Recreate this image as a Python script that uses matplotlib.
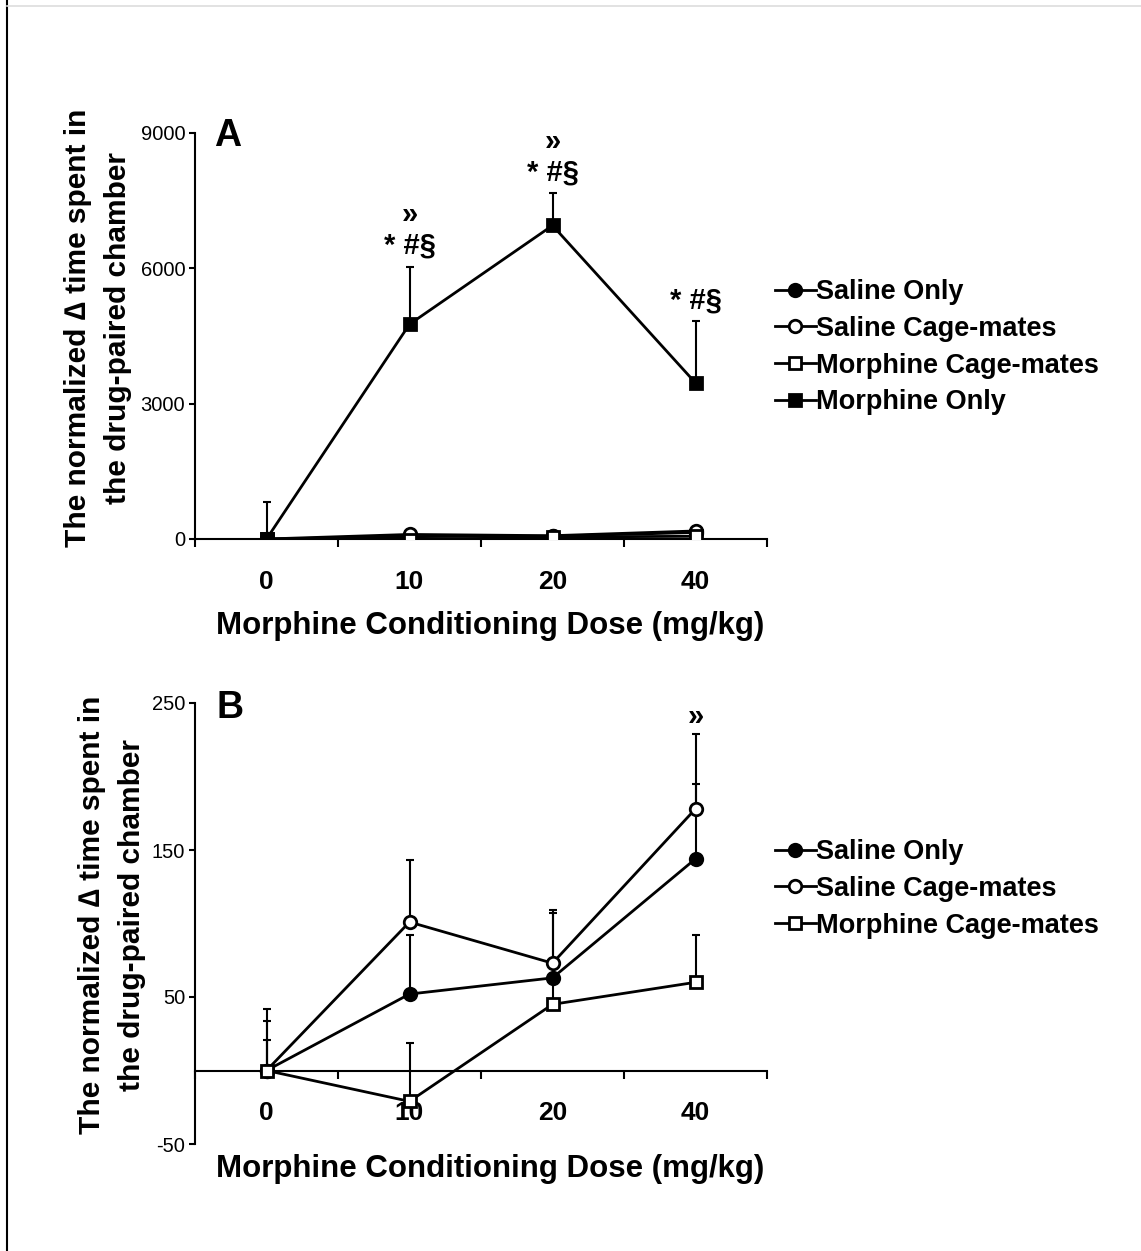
import numpy as np
import matplotlib
matplotlib.use('Agg')
import matplotlib.pyplot as plt
from matplotlib.lines import Line2D

plt.rcParams['font.family'] = ['Liberation Sans', 'DejaVu Sans']

################ DATA ####################

doses = ['0', '10', '20', '40']

# panel A
morph_only = [0, 4760, 6950, 3460]
morph_only_err = [815, 1280, 720, 1370]
a_sal_only = [0, 52, 63, 144]
a_sal_cage = [0, 101, 73, 178]
a_morph_cage = [0, -21, 45, 60]

# panel B
sal_only = [0, 52, 63, 144]
sal_only_err = [34, 40, 44, 51]
sal_cage = [0, 101, 73, 178]
sal_cage_err = [42, 42, 36, 51]
morph_cage = [0, -21, 45, 60]
morph_cage_err = [21, 40, 18, 32]

a_marks = ['»\n* #§', '»\n* #§', '* #§']   # over 10, 20, 40
b_marks = ['»']                             # over 40

################ PLOT ####################

W, H = 1141, 1251
fig = plt.figure(figsize=(W / 100, H / 100), dpi=100)
x = np.arange(len(doses))

styles = {
    'Saline Only': dict(marker='o', mfc='black', ms=9),
    'Saline Cage-mates': dict(marker='o', mfc='white', ms=9),
    'Morphine Cage-mates': dict(marker='s', mfc='white', ms=9),
    'Morphine Only': dict(marker='s', mfc='black', ms=9),
}


def draw_series(ax, y, err, label, z):
    st = styles[label]
    if err is not None:
        lo = np.zeros(len(y))
        ax.errorbar(x, y, yerr=[lo, err], fmt='none', ecolor='black',
                    elinewidth=1.5, capsize=3, capthick=1.5, zorder=z)
    ax.plot(x, y, color='black', lw=2, marker=st['marker'], ms=st['ms'],
            mfc=st['mfc'], mec='black', mew=2, label=label, zorder=z + 1)


def style_axis(ax, ylim, yticks, label_x, label_y):
    ax.set_xlim(-0.5, 3.5)
    ax.set_ylim(*ylim)
    ax.spines['top'].set_visible(False)
    ax.spines['right'].set_visible(False)
    ax.spines['bottom'].set_position(('data', 0))
    for s in ['left', 'bottom']:
        ax.spines[s].set_linewidth(1.5)
    ax.set_yticks(yticks)
    ax.set_yticklabels([str(t) for t in yticks], fontsize=14.5)
    ax.tick_params(axis='y', direction='out', length=4, width=1.5, pad=3)
    # category ticks sit between categories, labels under centers
    ax.set_xticks(np.arange(-0.5, 4.0, 1.0))
    ax.set_xticklabels([])
    ax.tick_params(axis='x', direction='out', length=6, width=1.5)
    ax.set_xticks(x, minor=True)
    ax.set_xticklabels(doses, minor=True, fontsize=19, fontweight='bold')
    ax.tick_params(axis='x', which='minor', length=0, pad=22)
    ax.set_ylabel('The normalized \u2206 time spent in\nthe drug-paired chamber',
                  fontsize=21.5, fontweight='bold', linespacing=1.55)
    ax.yaxis.set_label_coords(label_x, label_y)
    ax.set_xlabel('Morphine Conditioning Dose (mg/kg)', fontsize=22.5,
                  fontweight='bold', va='top')


def add_legend(ax, x_px, top_px):
    ax.legend(loc='upper left', bbox_to_anchor=(x_px / W, 1 - top_px / H),
              bbox_transform=fig.transFigure, frameon=False,
              handlelength=1.5, handletextpad=0.0, labelspacing=0.4,
              borderpad=0, borderaxespad=0,
              prop=dict(weight='bold', size=19.5))


# ---- Panel A ----
axA = fig.add_axes([195 / W, 1 - 539 / H, 572 / W, 406 / H])
draw_series(axA, a_sal_only, None, 'Saline Only', 3)
draw_series(axA, a_sal_cage, None, 'Saline Cage-mates', 5)
draw_series(axA, a_morph_cage, None, 'Morphine Cage-mates', 7)
draw_series(axA, morph_only, morph_only_err, 'Morphine Only', 9)
style_axis(axA, (0, 9000), [0, 3000, 6000, 9000], -0.11, 0.52)
axA.xaxis.set_label_coords(0.516, -0.178)
for i, m in zip([1, 2, 3], a_marks):
    axA.annotate(m, (x[i], morph_only[i] + morph_only_err[i]),
                 xytext=(0, 5), textcoords='offset points', ha='center',
                 va='bottom', fontsize=21, fontweight='bold', linespacing=1.1)
axA.text(0.033, 1.037, 'A', transform=axA.transAxes, fontsize=27,
         fontweight='bold', va='top')
add_legend(axA, 775, 279)

# ---- Panel B ----
axB = fig.add_axes([195 / W, 1 - 1144 / H, 572 / W, 441 / H])
draw_series(axB, sal_only, sal_only_err, 'Saline Only', 3)
draw_series(axB, sal_cage, sal_cage_err, 'Saline Cage-mates', 5)
draw_series(axB, morph_cage, morph_cage_err, 'Morphine Cage-mates', 7)
style_axis(axB, (-50, 250), [-50, 50, 150, 250], -0.085, 0.52)
axB.xaxis.set_label_coords(0.516, -0.022)
axB.annotate(b_marks[0], (x[3], sal_cage[3] + sal_cage_err[3]),
             xytext=(0, 2), textcoords='offset points', ha='center',
             va='bottom', fontsize=21, fontweight='bold')
axB.text(0.038, 1.03, 'B', transform=axB.transAxes, fontsize=27,
         fontweight='bold', va='top')
add_legend(axB, 775, 839)

# page edges
fig.add_artist(Line2D([7 / W, 7 / W], [0, 1], color='black', lw=1.5))
fig.add_artist(Line2D([7 / W, 1], [1 - 6 / H, 1 - 6 / H],
                      color='#dddddd', lw=1.2))

fig.savefig('out.png', dpi=100)
